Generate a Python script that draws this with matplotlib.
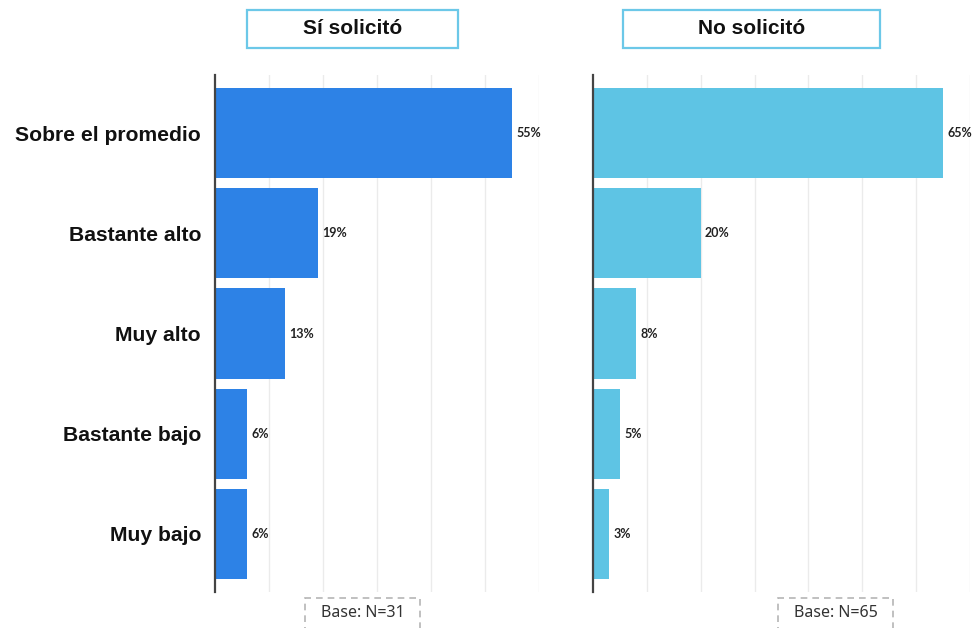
import matplotlib
matplotlib.use("Agg")
import matplotlib.pyplot as plt
from matplotlib.patches import Rectangle

categories = ["Sobre el promedio", "Bastante alto", "Muy alto", "Bastante bajo", "Muy bajo"]
si_values = [55, 19, 13, 6, 6]
no_values = [65, 20, 8, 5, 3]
panel_titles = ["Sí solicitó", "No solicitó"]
base_labels = ["Base: N=31", "Base: N=65"]

W, H = 973, 628
fig = plt.figure(figsize=(W / 100, H / 100), dpi=100)
fig.patch.set_facecolor("white")


def fx(px):
    return px / W


def fy(py):
    return 1 - py / H


def panel(left_px, right_px, values, color, xmax, show_labels):
    ax = fig.add_axes([fx(left_px), fy(592), fx(right_px - left_px), (592 - 75) / H])
    y = list(range(len(values)))
    ax.barh(y, values, height=0.9, color=color, zorder=3)
    ax.set_xlim(0, xmax)
    ax.set_ylim(len(values) - 1 + 0.58, -0.58)
    ax.set_xticks(range(10, xmax + 1, 10))
    ax.xaxis.grid(True, color="#ebebeb", linewidth=1, zorder=0)
    ax.tick_params(axis="x", length=0, labelbottom=False)
    ax.set_yticks(y)
    if show_labels:
        ax.set_yticklabels(categories, fontsize=15.2, fontweight="bold",
                           family="Liberation Sans", color="#111111")
    else:
        ax.set_yticklabels([])
    ax.tick_params(axis="y", length=0, pad=10)
    for s in ["top", "right", "bottom"]:
        ax.spines[s].set_visible(False)
    ax.spines["left"].set_color("#444444")
    ax.spines["left"].set_linewidth(1.6)
    ax.spines["left"].set_zorder(4)
    for yi, v in zip(y, values):
        ax.text(v + 0.8, yi, f"{v}%", va="center", ha="left", fontsize=9,
                fontweight="bold", family="Lato", color="#222222")
    return ax


panel(215, 539, si_values, "#2d82e6", 60, True)
panel(593, 970, no_values, "#5ec4e4", 70, False)

# Panel headers
for (x0, x1), title in zip([(247, 458), (623, 880)], panel_titles):
    fig.patches.append(Rectangle((fx(x0), fy(48)), fx(x1 - x0), (48 - 10) / H,
                                 transform=fig.transFigure, fill=False,
                                 edgecolor="#6cc8e8", linewidth=1.6))
    fig.text(fx((x0 + x1) / 2), fy(29), title, ha="center", va="center",
             fontsize=15, fontweight="bold", family="Liberation Sans", color="#111111")

# Base notes
for (x0, x1), label in zip([(305, 420), (778, 893)], base_labels):
    fig.patches.append(Rectangle((fx(x0), fy(640)), fx(x1 - x0), (640 - 598) / H,
                                 transform=fig.transFigure, fill=False,
                                 edgecolor="#b5b5b5", linewidth=1.2, linestyle=(0, (4, 3))))
    fig.text(fx((x0 + x1) / 2), fy(613), label, ha="center", va="center",
             fontsize=11.5, family="Noto Sans", color="#333333")

fig.savefig("out.png", dpi=100)
